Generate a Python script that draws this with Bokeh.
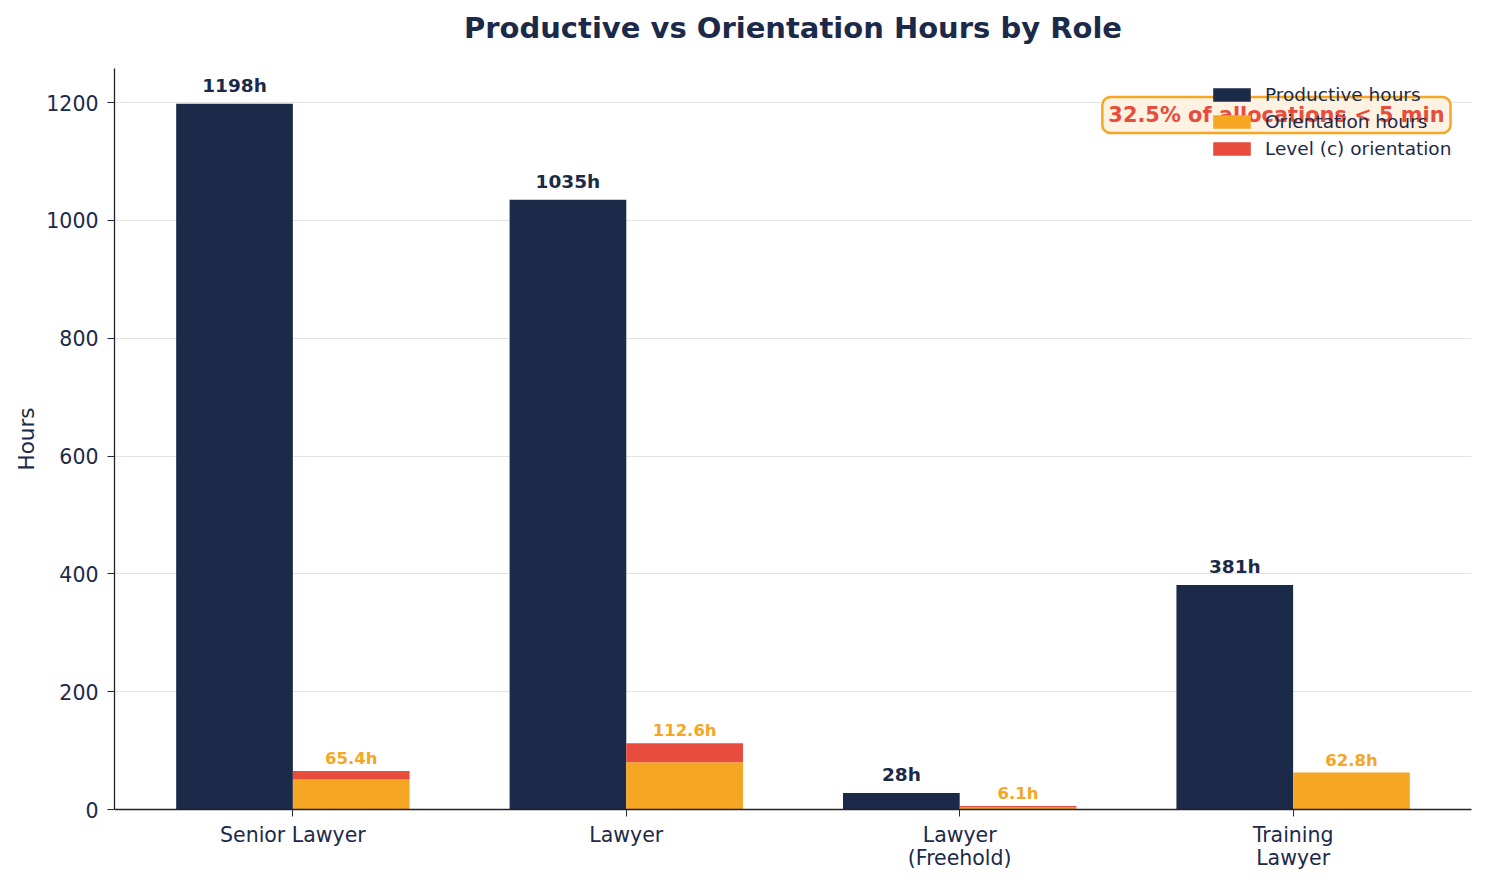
from bokeh.plotting import figure
from bokeh.models import (ColumnDataSource, Range1d, FixedTicker, Legend, LegendItem, Label, Title)
from bokeh.transform import dodge
from bokeh.core.properties import value
from bokeh.embed import file_html
from bokeh.resources import INLINE

# ---- data ----
roles = ["Senior Lawyer", "Lawyer", "Lawyer\n(Freehold)", "Training\nLawyer"]
productive_hours = [1198, 1035, 28, 381]
orientation_hours = [65.4, 112.6, 6.1, 62.8]
level_c_hours = [14.4, 32.6, 2.6, 0.0]
y_ticks = [0, 200, 400, 600, 800, 1000, 1200]
title_text = "Productive vs Orientation Hours by Role"
annotation_text = "32.5% of allocations < 5 min"

NAVY = "#1c2a4a"
ORANGE = "#f5a623"
RED = "#e74c3c"
FONT = "DejaVu Sans"

idx = list(range(len(roles)))
orient_base = [round(t - c, 1) for t, c in zip(orientation_hours, level_c_hours)]
source = ColumnDataSource(dict(
    idx=idx,
    productive=productive_hours,
    orient_total=orientation_hours,
    orient_base=orient_base,
    level_c=level_c_hours,
    prod_label=[f"{v:.0f}h" for v in productive_hours],
    orient_label=[f"{v:.1f}h" for v in orientation_hours],
))

bw = 0.35
span = len(roles) - 1 + 2 * bw
xr = Range1d(-bw - 0.05 * span, len(roles) - 1 + bw + 0.05 * span)
yr = Range1d(0, max(productive_hours) * 1.05)
p = figure(width=1477, height=874, output_backend="svg", toolbar_location=None,
           x_range=xr, y_range=yr, title=None,
           min_border_left=114, min_border_right=6, min_border_top=68, min_border_bottom=65)

# small spacer panel next to the frame, then the real title above it
spacer = Title(text=" ", text_font_size="1px", standoff=13)
p.add_layout(spacer, "above")
main_title = Title(text=title_text, align="center", text_font=FONT, text_font_size="29px",
                   text_font_style="bold", text_color=NAVY, standoff=16)
p.add_layout(main_title, "above")

prod = p.vbar(x=dodge("idx", -bw / 2, range=p.x_range), top="productive", width=bw,
              source=source, fill_color=NAVY, line_color=None)
stack = p.vbar_stack(["orient_base", "level_c"], x=dodge("idx", bw / 2, range=p.x_range),
                     width=bw, source=source, fill_color=[ORANGE, RED], line_color=None)

p.text(x=dodge("idx", -bw / 2, range=p.x_range), y="productive", text="prod_label",
       source=source, text_align="center", text_baseline="bottom", y_offset=-8,
       text_font=value(FONT), text_font_size="18.5px", text_font_style="bold", text_color=NAVY)
p.text(x=dodge("idx", bw / 2, range=p.x_range), y="orient_total", text="orient_label",
       source=source, text_align="center", text_baseline="bottom", y_offset=-3,
       text_font=value(FONT), text_font_size="16.5px", text_font_style="bold", text_color=ORANGE)

# axes
p.xaxis.ticker = FixedTicker(ticks=idx)
p.xaxis.major_label_overrides = {i: r for i, r in zip(idx, roles)}
p.yaxis.ticker = FixedTicker(ticks=y_ticks)
p.yaxis.axis_label = "Hours"
for ax in (p.xaxis, p.yaxis):
    ax.axis_line_color = "#222222"
    ax.axis_line_width = 1.3
    ax.major_tick_line_color = NAVY
    ax.major_tick_out = 7
    ax.major_tick_in = 0
    ax.minor_tick_line_color = None
    ax.major_label_text_font = FONT
    ax.major_label_text_font_size = "20.5px"
    ax.major_label_text_color = NAVY
p.xaxis.major_label_standoff = 6
p.xaxis.major_label_text_line_height = 0.96
p.yaxis.major_label_standoff = 9
p.yaxis.axis_label_text_font = FONT
p.yaxis.axis_label_text_font_size = "21.5px"
p.yaxis.axis_label_text_font_style = "normal"
p.yaxis.axis_label_text_color = NAVY
p.yaxis.axis_label_standoff = 4

p.xgrid.grid_line_color = None
p.ygrid.grid_line_color = "#e3e3e3"
p.ygrid.grid_line_width = 1.2
p.outline_line_color = None
p.background_fill_color = "white"

# annotation box
lab = Label(x=2.95, y=1179, x_units="data", y_units="data", text=annotation_text,
            text_align="center", text_baseline="middle", text_font=FONT,
            text_font_size="20.9px", text_font_style="bold", text_color=RED,
            background_fill_color="#fef3e2", background_fill_alpha=1.0,
            border_line_color=ORANGE, border_line_width=2.5, padding=6, border_radius=8)
p.add_layout(lab)

legend = Legend(items=[
    LegendItem(label="Productive hours", renderers=[prod]),
    LegendItem(label="Orientation hours", renderers=[stack[0]]),
    LegendItem(label="Level (c) orientation", renderers=[stack[1]]),
], location="top_right")
legend.background_fill_alpha = 0
legend.border_line_color = None
legend.label_text_font = FONT
legend.label_text_font_size = "18.5px"
legend.label_text_color = NAVY
legend.glyph_width = 47
legend.glyph_height = 17
legend.label_height = 20
legend.label_width = 190
legend.label_standoff = 10
legend.spacing = 6
legend.padding = 5
legend.margin = 16
p.add_layout(legend)

open("out.html", "w").write(file_html(p, INLINE))
